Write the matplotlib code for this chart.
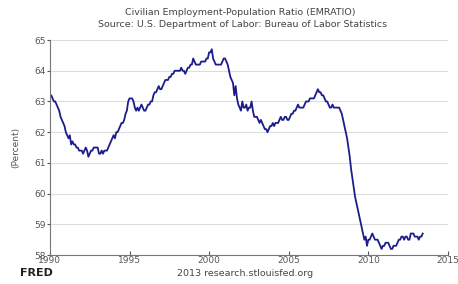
import numpy as np
import matplotlib.pyplot as plt

# monthly values, Jan 1990 .. Jun 2013 (percent)
y1990 = [63.2, 63.2, 63.1, 63.0, 63.0, 62.9, 62.8, 62.7, 62.5, 62.4, 62.3, 62.2]
y1991 = [62.0, 61.9, 61.8, 61.9, 61.6, 61.7, 61.6, 61.6, 61.5, 61.5, 61.4, 61.4]
y1992 = [61.4, 61.3, 61.4, 61.5, 61.4, 61.2, 61.3, 61.4, 61.4, 61.5, 61.5, 61.5]
y1993 = [61.5, 61.3, 61.3, 61.4, 61.3, 61.4, 61.4, 61.4, 61.5, 61.6, 61.7, 61.8]
y1994 = [61.9, 61.8, 62.0, 62.0, 62.1, 62.2, 62.3, 62.3, 62.4, 62.6, 62.7, 63.0]
y1995 = [63.1, 63.1, 63.1, 63.0, 62.8, 62.7, 62.8, 62.7, 62.8, 62.9, 62.8, 62.7]
y1996 = [62.7, 62.8, 62.9, 62.9, 63.0, 63.0, 63.2, 63.3, 63.3, 63.4, 63.5, 63.4]
y1997 = [63.4, 63.5, 63.6, 63.7, 63.7, 63.7, 63.8, 63.8, 63.9, 63.9, 64.0, 64.0]
y1998 = [64.0, 64.0, 64.0, 64.1, 64.0, 64.0, 63.9, 64.0, 64.1, 64.1, 64.2, 64.2]
y1999 = [64.4, 64.3, 64.2, 64.2, 64.2, 64.2, 64.3, 64.3, 64.3, 64.3, 64.4, 64.4]
y2000 = [64.6, 64.6, 64.7, 64.4, 64.3, 64.2, 64.2, 64.2, 64.2, 64.2, 64.3, 64.4]
y2001 = [64.4, 64.3, 64.2, 64.0, 63.8, 63.7, 63.6, 63.2, 63.5, 63.1, 62.9, 62.8]
y2002 = [62.7, 63.0, 62.8, 62.8, 62.9, 62.7, 62.8, 62.8, 63.0, 62.7, 62.5, 62.5]
y2003 = [62.5, 62.4, 62.3, 62.4, 62.3, 62.2, 62.1, 62.1, 62.0, 62.1, 62.2, 62.2]
y2004 = [62.3, 62.2, 62.3, 62.3, 62.3, 62.4, 62.5, 62.4, 62.4, 62.5, 62.5, 62.4]
y2005 = [62.4, 62.5, 62.6, 62.6, 62.7, 62.7, 62.8, 62.9, 62.8, 62.8, 62.8, 62.8]
y2006 = [62.9, 63.0, 63.0, 63.0, 63.1, 63.1, 63.1, 63.1, 63.2, 63.3, 63.4, 63.3]
y2007 = [63.3, 63.2, 63.2, 63.1, 63.0, 63.0, 62.9, 62.8, 62.8, 62.9, 62.8, 62.8]
y2008 = [62.8, 62.8, 62.8, 62.7, 62.6, 62.4, 62.2, 62.0, 61.8, 61.5, 61.2, 60.8]
y2009 = [60.5, 60.2, 59.9, 59.7, 59.5, 59.3, 59.1, 58.9, 58.7, 58.5, 58.6, 58.3]
y2010 = [58.5, 58.5, 58.6, 58.7, 58.6, 58.5, 58.5, 58.5, 58.4, 58.3, 58.2, 58.3]
y2011 = [58.3, 58.4, 58.4, 58.4, 58.3, 58.2, 58.2, 58.3, 58.3, 58.3, 58.4, 58.5]
y2012 = [58.5, 58.6, 58.6, 58.5, 58.6, 58.6, 58.5, 58.5, 58.7, 58.7, 58.7, 58.6]
y2013 = [58.6, 58.6, 58.5, 58.6, 58.6, 58.7]

values = (y1990 + y1991 + y1992 + y1993 + y1994 + y1995 + y1996 + y1997
          + y1998 + y1999 + y2000 + y2001 + y2002 + y2003 + y2004 + y2005
          + y2006 + y2007 + y2008 + y2009 + y2010 + y2011 + y2012 + y2013)
dates = 1990 + np.arange(len(values)) / 12.0

x_ticks = [1990, 1995, 2000, 2005, 2010, 2015]
y_ticks = [58, 59, 60, 61, 62, 63, 64, 65]

fig = plt.figure(figsize=(4.58, 2.84), dpi=100)
ax = fig.add_axes([0.109, 0.102, 0.869, 0.757])

ax.plot(dates, values, color='#1c1c8a', linewidth=1.3)

ax.set_xlim(1990, 2015)
ax.set_ylim(58, 65)
ax.set_xticks(x_ticks)
ax.set_yticks(y_ticks)
ax.grid(axis='y', color='#dcdcdc', linewidth=0.8)
ax.set_axisbelow(True)

for s in ['top', 'right']:
    ax.spines[s].set_visible(False)
for s in ['left', 'bottom']:
    ax.spines[s].set_color('#777777')
    ax.spines[s].set_linewidth(0.8)

ax.tick_params(axis='x', direction='in', length=3, labelsize=6.5,
               colors='#555555', pad=1)
ax.tick_params(axis='y', direction='out', length=2, labelsize=6.5,
               colors='#555555', pad=1)
ax.set_ylabel('(Percent)', fontsize=6.5, color='#555555', labelpad=10)

fig.text(0.525, 0.955, 'Civilian Employment-Population Ratio (EMRATIO)',
         ha='center', va='center', fontsize=6.8, color='#444444')
fig.text(0.53, 0.915, 'Source: U.S. Department of Labor: Bureau of Labor Statistics',
         ha='center', va='center', fontsize=6.8, color='#444444')

fig.text(0.044, 0.022, 'FRED', ha='left', va='bottom', fontsize=8,
         fontweight='bold', color='#222222')
fig.text(0.535, 0.022, '2013 research.stlouisfed.org', ha='center',
         va='bottom', fontsize=6.8, color='#444444')

fig.savefig('out.png', dpi=100)
